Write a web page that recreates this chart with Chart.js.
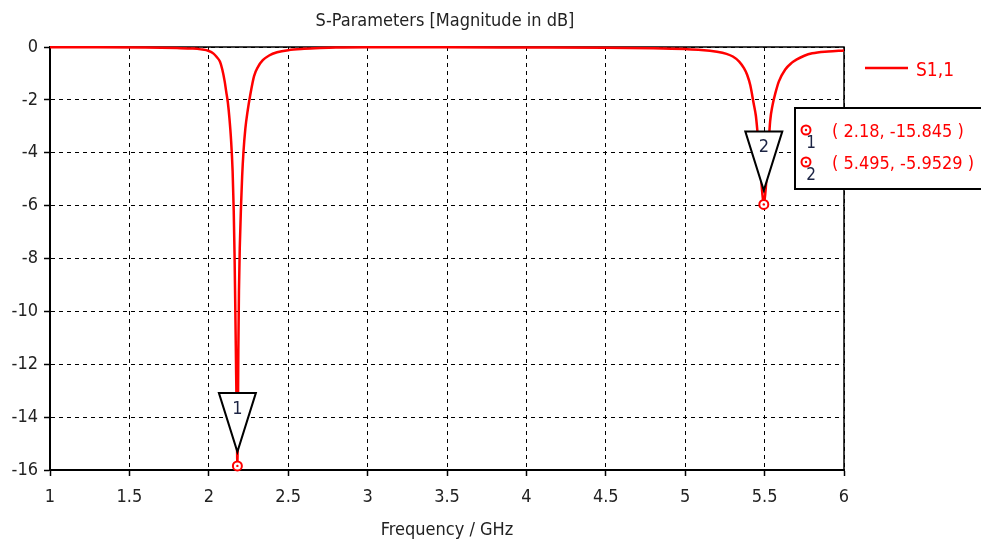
<!DOCTYPE html>
<html>
<head>
<meta charset="utf-8">
<script src="https://cdn.jsdelivr.net/npm/chart.js@4"></script>
<style>
  html, body { margin: 0; padding: 0; background: #fff; }
  #wrap { width: 981px; height: 542px; }
</style>
</head>
<body>
<div id="wrap"><canvas id="sChart" width="981" height="542"></canvas></div>
<script>
// S1,1 trace (GHz, dB)
const freqs = [
  1.0, 1.3, 1.6, 1.8, 1.9, 1.95, 2.0, 2.03, 2.05, 2.07, 2.085, 2.1, 2.11, 2.12,
  2.13, 2.14, 2.15, 2.157, 2.162, 2.166, 2.17, 2.174, 2.177, 2.18, 2.183, 2.186,
  2.19, 2.195, 2.203, 2.21, 2.218, 2.23, 2.245, 2.26, 2.285, 2.31, 2.34, 2.38,
  2.43, 2.5, 2.6, 2.7, 2.8, 3.0, 3.5, 4.0, 4.5, 4.8, 5.0, 5.1, 5.2, 5.26, 5.3,
  5.34, 5.37, 5.39, 5.41, 5.43, 5.445, 5.455, 5.465, 5.475, 5.485, 5.495, 5.505,
  5.515, 5.525, 5.535, 5.55, 5.57, 5.59, 5.63, 5.67, 5.7, 5.75, 5.8, 5.9, 6.0
];
const s11 = [
  -0.01, -0.01, -0.02, -0.04, -0.06, -0.09, -0.15, -0.25, -0.38, -0.55, -0.85, -1.3, -1.7, -2.1,
  -2.7, -3.5, -4.7, -6.2, -7.8, -9.5, -11.3, -13.2, -14.6, -15.845, -14.2, -11.5,
  -9.2, -7.6, -6.0, -4.9, -4.0, -3.1, -2.4, -1.85, -1.1, -0.75, -0.5, -0.32,
  -0.2, -0.12, -0.07, -0.04, -0.02, -0.01, -0.01, -0.02, -0.03, -0.05, -0.08, -0.11, -0.18, -0.26, -0.36,
  -0.55, -0.8, -1.05, -1.45, -2.1, -2.6, -3.2, -3.9, -4.7, -5.5, -5.9529, -5.5,
  -4.7, -3.7, -2.8, -2.2, -1.7, -1.3, -0.85, -0.6, -0.48, -0.33, -0.24, -0.17, -0.13
];

// markers
const markerFreq = [2.18, 5.495];
const markerDb = [-15.845, -5.9529];
const markerLabels = ["1", "2"];
const markerText = ["( 2.18, -15.845 )", "( 5.495, -5.9529 )"];

const seriesName = "S1,1";
const chartTitle = "S-Parameters [Magnitude in dB]";
const xTitle = "Frequency / GHz";

const FONT = '"DejaVu Sans Condensed", "DejaVu Sans", sans-serif';
const RED = "#ff0000";
const INK = "#1c2444";

function ring(ctx, x, y) {
  ctx.beginPath();
  ctx.arc(x, y, 4.5, 0, Math.PI * 2);
  ctx.fillStyle = "#fff";
  ctx.fill();
  ctx.lineWidth = 2;
  ctx.strokeStyle = RED;
  ctx.stroke();
  ctx.beginPath();
  ctx.arc(x, y, 1.2, 0, Math.PI * 2);
  ctx.fillStyle = RED;
  ctx.fill();
}

const decor = {
  id: "decor",
  beforeDatasetsDraw(chart) {
    const { ctx, chartArea: a } = chart;
    ctx.save();
    ctx.strokeStyle = "#000";
    ctx.lineWidth = 1.5;
    ctx.strokeRect(a.left, a.top, a.right - a.left, a.bottom - a.top);
    ctx.restore();
  },
  afterDatasetsDraw(chart) {
    const { ctx } = chart;
    const xs = chart.scales.x, ys = chart.scales.y;
    ctx.save();

    // marker triangles + rings
    markerFreq.forEach((f, i) => {
      const px = xs.getPixelForValue(f);
      const py = ys.getPixelForValue(markerDb[i]);
      const apex = py - 14;
      const top = apex - 59;
      ctx.beginPath();
      ctx.moveTo(px - 18.5, top);
      ctx.lineTo(px + 18.5, top);
      ctx.lineTo(px, apex);
      ctx.closePath();
      ctx.fillStyle = "#fff";
      ctx.fill();
      ctx.lineWidth = 2;
      ctx.strokeStyle = "#000";
      ctx.stroke();
      ctx.fillStyle = INK;
      ctx.font = "18px " + FONT;
      ctx.textAlign = "center";
      ctx.textBaseline = "middle";
      ctx.fillText(markerLabels[i], px, top + 16);
      ring(ctx, px, py);
    });

    // legend
    ctx.strokeStyle = RED;
    ctx.lineWidth = 2.5;
    ctx.beginPath();
    ctx.moveTo(865, 68);
    ctx.lineTo(908, 68);
    ctx.stroke();
    ctx.fillStyle = RED;
    ctx.font = "19px " + FONT;
    ctx.textAlign = "left";
    ctx.textBaseline = "middle";
    ctx.fillText(seriesName, 916, 71);

    // marker readout box
    ctx.fillStyle = "#fff";
    ctx.fillRect(795, 108, 200, 81);
    ctx.strokeStyle = "#000";
    ctx.lineWidth = 2;
    ctx.strokeRect(795, 108, 200, 81);
    markerText.forEach((t, i) => {
      const ry = 130 + i * 32;
      ring(ctx, 806, ry);
      ctx.fillStyle = RED;
      ctx.font = "18px " + FONT;
      ctx.textAlign = "left";
      ctx.textBaseline = "middle";
      ctx.fillText(t, 832, ry + 2);
      ctx.fillStyle = INK;
      ctx.font = "17px " + FONT;
      ctx.textAlign = "center";
      ctx.fillText(markerLabels[i], 811, ry + 14);
    });

    // title
    ctx.fillStyle = "#222";
    ctx.font = "18px " + FONT;
    ctx.textAlign = "center";
    ctx.textBaseline = "middle";
    ctx.fillText(chartTitle, 445, 21);
    ctx.restore();
  }
};

new Chart(document.getElementById("sChart"), {
  type: "line",
  data: {
    datasets: [
      {
        label: seriesName,
        data: freqs.map((f, i) => ({ x: f, y: s11[i] })),
        borderColor: RED,
        borderWidth: 2.5,
        pointRadius: 0,
        cubicInterpolationMode: "monotone",
        clip: false,
      },
    ],
  },
  options: {
    responsive: false,
    animation: false,
    events: [],
    layout: { padding: { top: 47, right: 137, left: 0, bottom: 0 } },
    plugins: {
      legend: { display: false },
      title: { display: false },
      tooltip: { enabled: false },
    },
    scales: {
      x: {
        type: "linear",
        min: 1,
        max: 6,
        ticks: {
          stepSize: 0.5,
          color: "#222",
          font: { family: FONT, size: 18 },
          padding: 11,
          maxRotation: 0,
          callback: (v) => String(v),
        },
        grid: {
          color: "#000",
          lineWidth: 1,
          tickLength: 6,
          tickColor: "#000",
          tickWidth: 1.5,
        },
        border: { display: true, color: "#000", width: 2, dash: [4, 4] },
        title: {
          display: true,
          text: xTitle,
          color: "#222",
          font: { family: FONT, size: 18 },
          padding: { top: 0, bottom: 1 },
        },
        afterFit(s) { s.height = 72; },
      },
      y: {
        min: -16,
        max: 0,
        ticks: {
          stepSize: 2,
          color: "#222",
          font: { family: FONT, size: 18 },
          padding: 6,
        },
        grid: {
          color: "#000",
          lineWidth: 1,
          tickLength: 6,
          tickColor: "#000",
          tickWidth: 1.5,
        },
        border: { display: true, color: "#000", width: 2, dash: [4, 4] },
        afterFit(s) { s.width = 50; },
      },
    },
  },
  plugins: [decor],
});
</script>
</body>
</html>
